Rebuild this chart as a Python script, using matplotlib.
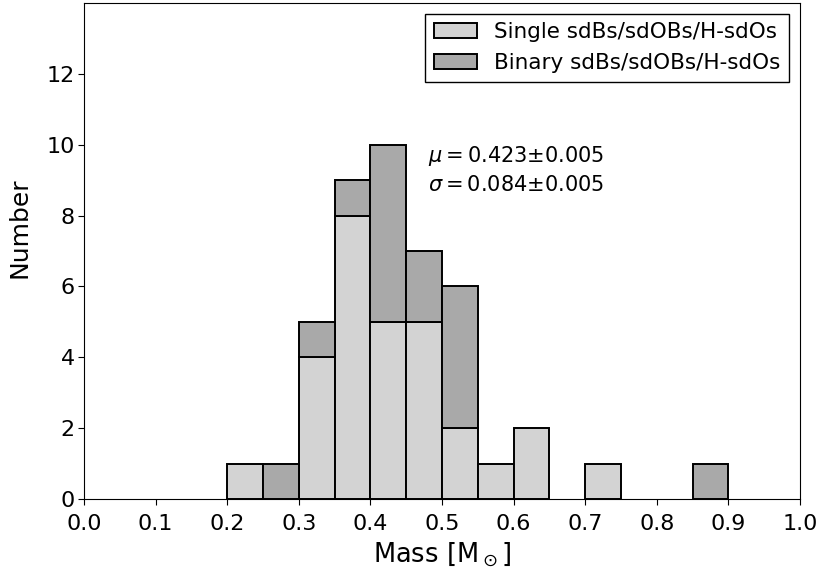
import numpy as np
import matplotlib.pyplot as plt

bordes = np.round(np.arange(0.20, 0.901, 0.05), 2)
solas = np.array([1, 0, 4, 8, 5, 5, 2, 1, 2, 0, 1, 0, 0, 0])
binarias = np.array([0, 1, 1, 1, 5, 2, 4, 0, 0, 0, 0, 0, 0, 1])

media = r'$\mu=$0.423$\pm$0.005'
sigma = r'$\sigma=$0.084$\pm$0.005'

fig = plt.figure(figsize=(8.18, 5.72), dpi=100)
ax = fig.add_axes([0.1027, 0.1276, 0.8753, 0.8672])

ancho = np.diff(bordes)
izq = bordes[:-1]
s = solas > 0  # no dibujar barras vacias
b = binarias > 0
ax.bar(izq[s], solas[s], width=ancho[s], align='edge', color='#d3d3d3',
       edgecolor='black', linewidth=1.4, label='Single sdBs/sdOBs/H-sdOs')
ax.bar(izq[b], binarias[b], width=ancho[b], bottom=solas[b], align='edge', color='#a9a9a9',
       edgecolor='black', linewidth=1.4, label='Binary sdBs/sdOBs/H-sdOs')

ax.set_xlim(0, 1.0)
ax.set_ylim(0, 14)
ax.set_xticks(np.arange(0, 1.01, 0.1))
ax.set_xticklabels([f'{v:.1f}' for v in np.arange(0, 1.01, 0.1)])
ax.set_yticks(range(0, 14, 2))
ax.tick_params(labelsize=16, length=4.5)
ax.tick_params(axis='x', pad=6)
ax.tick_params(axis='y', pad=2)
ax.set_xlabel(r'Mass [M$_\odot$]', fontsize=18.5, labelpad=5)
ax.set_ylabel('Number', fontsize=18)
ax.yaxis.set_label_coords(-0.073, 0.546)

ax.text(0.48, 9.3, media + '\n' + sigma, fontsize=15, va='center', linespacing=1.45)

leg = ax.legend(loc='upper right', fontsize=15.5, fancybox=False, framealpha=1,
                edgecolor='black', handlelength=2.0, borderpad=0.4)

fig.savefig('out.png', dpi=100)
